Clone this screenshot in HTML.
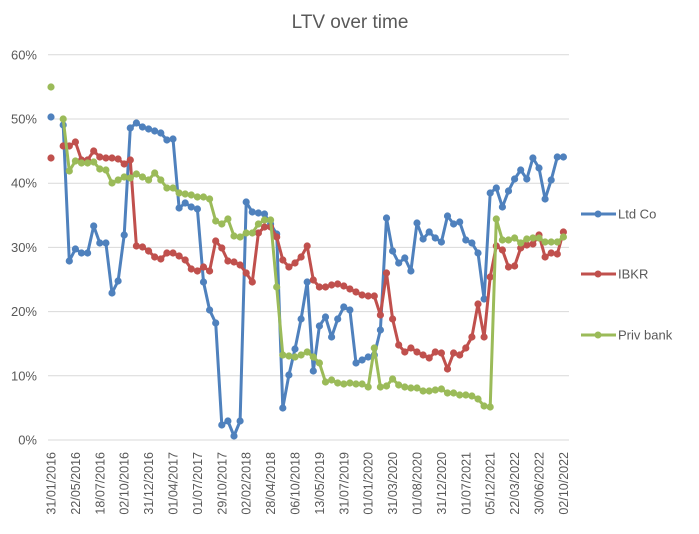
<!DOCTYPE html>
<html><head><meta charset="utf-8"><style>
html,body{margin:0;padding:0;background:#fff;}
svg{display:block;font-family:"Liberation Sans",sans-serif;}
</style></head><body>
<svg id="c" width="699" height="534" xmlns="http://www.w3.org/2000/svg">
<rect width="699" height="534" fill="#fff"/>
<text x="350" y="28" text-anchor="middle" font-size="19" fill="#595959">LTV over time</text>
<g id="grid" stroke="#d9d9d9" stroke-width="1"></g>
<g id="ylab" font-size="13" fill="#595959" text-anchor="end"></g>
<g id="xlab" font-size="12.5" fill="#595959"></g>
<g id="series"></g>
<g font-size="13" fill="#595959">
<line x1="581" y1="214" x2="616" y2="214" stroke="#4f81bd" stroke-width="3"/><circle cx="598" cy="214" r="3.5" fill="#4f81bd"/><text x="618" y="218.5">Ltd Co</text>
<line x1="581" y1="274" x2="616" y2="274" stroke="#c0504d" stroke-width="3"/><circle cx="598" cy="274" r="3.5" fill="#c0504d"/><text x="618" y="278.5">IBKR</text>
<line x1="581" y1="335" x2="616" y2="335" stroke="#9bbb59" stroke-width="3"/><circle cx="598" cy="335" r="3.5" fill="#9bbb59"/><text x="618" y="339.5">Priv bank</text>
</g>
</svg>
<script>
var NS="http://www.w3.org/2000/svg";
function el(t,a,p,txt){var e=document.createElementNS(NS,t);for(var k in a)e.setAttribute(k,a[k]);if(txt)e.textContent=txt;p.appendChild(e);return e;}
var g=document.getElementById("grid"),yl=document.getElementById("ylab");
for(var i=0;i<=6;i++){var y=440-i*64.2;el("line",{x1:48,x2:569,y1:y,y2:y},g);el("text",{x:37,y:y+4.5},yl,(i*10)+"%");}
var labs=["31/01/2016","22/05/2016","18/07/2016","02/10/2016","31/12/2016","01/04/2017","01/07/2017","29/10/2017","02/02/2018","28/04/2018","06/10/2018","13/05/2019","31/07/2019","01/01/2020","31/03/2020","01/08/2020","31/12/2020","01/07/2021","05/12/2021","22/03/2022","30/06/2022","02/10/2022"];
var xl=document.getElementById("xlab");
labs.forEach(function(s,i){var x=51+i*24.4+4.5;el("text",{x:0,y:0,"text-anchor":"end",transform:"translate("+x+",452) rotate(-90)"},xl,s);});
var N=null;
var blue=[117,N,125,261,249,253,253,226,243,243,293,281,235,128,123,127,129,131,133,140,139,208,203,207,209,282,310,323,425,421,436,421,202,212,213,214,224,234,408,375,349,319,282,371,326,317,337,319,307,310,363,360,357,355,330,218,251,263,258,271,223,239,232,238,242,216,224,222,240,243,253,299,193,188,207,191,179,170,179,158,168,199,180,157,157];
var red=[158,N,146,146,142,160,160,151,157,158,158,159,164,160,246,247,251,257,259,253,253,256,260,269,271,267,271,241,248,261,262,265,273,282,233,227,227,237,260,267,263,257,246,280,287,287,285,284,286,289,292,295,296,296,315,273,319,345,352,348,352,355,358,352,353,369,353,355,348,337,304,337,277,246,250,267,266,248,245,244,235,257,253,254,232];
var green=[87,N,119,171,161,163,163,162,169,170,183,180,177,178,174,177,180,173,180,188,188,193,194,195,197,197,199,221,224,219,236,237,233,233,224,220,220,287,355,356,357,355,352,357,363,382,380,383,384,383,384,384,387,348,387,386,379,385,387,388,388,391,391,390,389,393,393,395,395,396,399,406,407,219,240,240,238,243,239,238,238,242,242,242,237];
var sg=document.getElementById("series");
[[blue,"#4f81bd"],[red,"#c0504d"],[green,"#9bbb59"]].forEach(function(s){
 var d=s[0],c=s[1],pts=[],segs=[];
 d.forEach(function(v,i){if(v===null){if(pts.length)segs.push(pts);pts=[];}else pts.push((51+i*6.1).toFixed(1)+","+v);});
 if(pts.length)segs.push(pts);
 segs.forEach(function(p){if(p.length>1)el("polyline",{points:p.join(" "),fill:"none",stroke:c,"stroke-width":3,"stroke-linejoin":"round"},sg);});
 d.forEach(function(v,i){if(v!==null)el("circle",{cx:51+i*6.1,cy:v,r:3.6,fill:c},sg);});
});
</script>
</body></html>
